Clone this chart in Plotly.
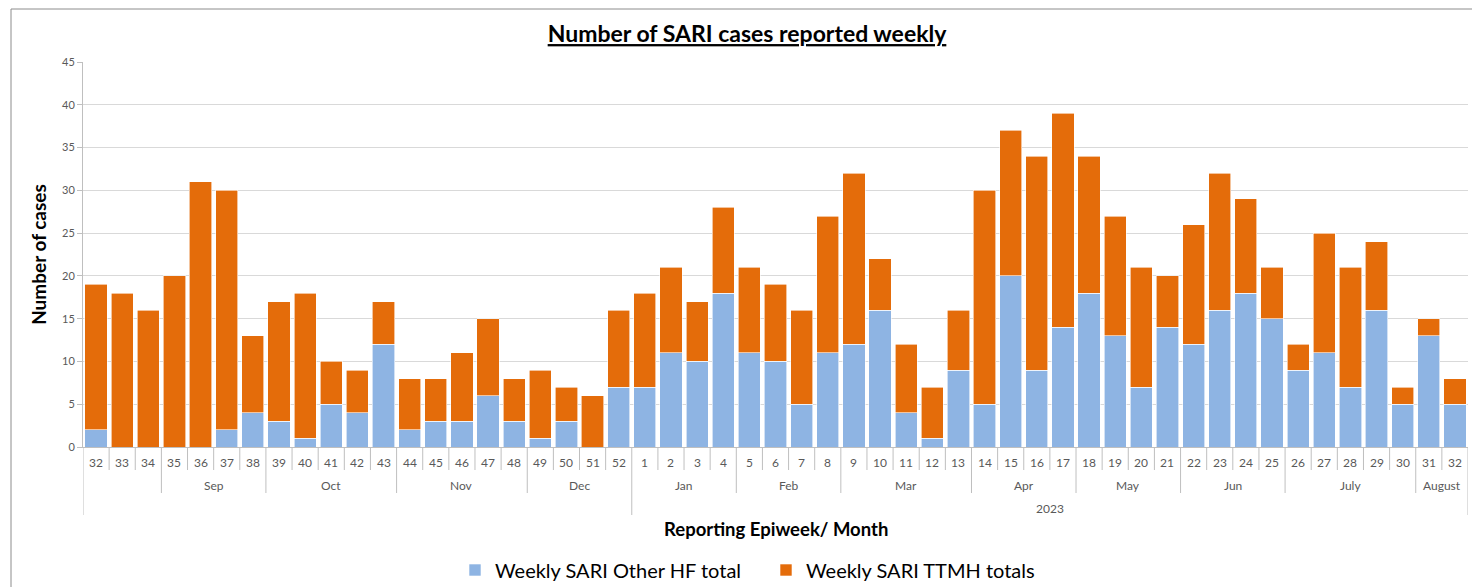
import plotly.graph_objects as go

weeks = ["32","33","34","35","36","37","38","39","40","41","42","43","44","45","46","47","48",
         "49","50","51","52","1","2","3","4","5","6","7","8","9","10","11","12","13","14","15",
         "16","17","18","19","20","21","22","23","24","25","26","27","28","29","30","31","32"]
months = ["","",""] + ["Sep"]*4 + ["Oct"]*5 + ["Nov"]*5 + ["Dec"]*4 + ["Jan"]*4 + ["Feb"]*4 + \
         ["Mar"]*5 + ["Apr"]*4 + ["May"]*4 + ["Jun"]*4 + ["July"]*5 + ["August"]*2
years = [""]*21 + ["2023"]*32

other_hf = [2,0,0,0,0,2,4,3,1,5,4,12,2,3,3,6,3,1,3,0,7,
            7,11,10,18,11,10,5,11,12,16,4,1,9,5,20,9,14,18,13,7,14,12,16,18,15,9,11,7,16,5,13,5]
ttmh = [17,18,16,20,31,28,9,14,17,5,5,5,6,5,8,9,5,8,4,6,9,
        11,10,7,10,10,9,11,16,20,6,8,6,7,25,17,25,25,16,14,14,6,14,16,11,6,3,14,14,8,2,2,3]

BLUE = "#8EB4E3"
ORANGE = "#E46C0A"
FONT = "Lato"
W, H = 1472, 587
ML, MR, MT, MB = 83, 4, 62, 140
PLOT_W = W - ML - MR
PLOT_H = H - MT - MB

idx = list(range(len(weeks)))

fig = go.Figure()
fig.add_trace(go.Bar(x=idx, y=other_hf, name="Weekly SARI Other HF total",
                     marker=dict(color=BLUE, line=dict(color="white", width=0.6))))
fig.add_trace(go.Bar(x=idx, y=ttmh, name="Weekly SARI TTMH totals",
                     marker=dict(color=ORANGE, line=dict(color="white", width=0.6))))

annotations = []
shapes = []

# week labels
for i, w in enumerate(weeks):
    annotations.append(dict(x=i, y=0, xref="x", yref="paper", text=w, showarrow=False,
                            yanchor="middle", yshift=-15, font=dict(family=FONT, size=12, color="#595959")))

def groups(labels):
    out = []
    start = 0
    for i in range(1, len(labels) + 1):
        if i == len(labels) or labels[i] != labels[start]:
            out.append((labels[start], start, i - 1))
            start = i
    return out

for lab, a, b in groups(months):
    if lab:
        annotations.append(dict(x=(a + b) / 2, y=0, xref="x", yref="paper", text=lab, showarrow=False,
                                yanchor="middle", yshift=-38, font=dict(family=FONT, size=12, color="#595959")))
for lab, a, b in groups(years):
    if lab:
        annotations.append(dict(x=(a + b) / 2, y=0, xref="x", yref="paper", text=lab, showarrow=False,
                                yanchor="middle", yshift=-61, font=dict(family=FONT, size=12, color="#595959")))

# separators
n = len(weeks)
for i in range(n + 1):
    if i == 0 or i == n or years[i] != years[i - 1]:
        depth = 68
    elif months[i] != months[i - 1]:
        depth = 46
    else:
        depth = 23
    shapes.append(dict(type="line", xref="x", yref="paper", x0=i - 0.5, x1=i - 0.5,
                       y0=0, y1=-depth / PLOT_H, line=dict(color="#BFBFBF", width=1)))

# x axis title
annotations.append(dict(x=0.5, y=0, xref="paper", yref="paper", text="<b>Reporting Epiweek/ Month</b>",
                        showarrow=False, yanchor="middle", yshift=-82,
                        font=dict(family=FONT, size=18.5, color="black")))

# outer border
shapes.append(dict(type="rect", xref="paper", yref="paper",
                   x0=(11 - ML) / PLOT_W, x1=1 + 40 / PLOT_W, y0=-200 / PLOT_H, y1=1 + (MT - 9) / PLOT_H,
                   line=dict(color="#8C8C8C", width=1), fillcolor="rgba(0,0,0,0)", layer="below"))

fig.update_layout(
    width=W, height=H,
    margin=dict(l=ML, r=MR, t=MT, b=MB, autoexpand=False),
    paper_bgcolor="white", plot_bgcolor="white",
    barmode="stack", bargap=0.15,
    font=dict(family=FONT, color="#595959"),
    title=dict(text="<b><u>Number of SARI cases reported weekly</u></b>", x=747 / W, xanchor="center",
               y=1 - 34 / H, yanchor="middle", font=dict(family=FONT, size=23, color="black")),
    xaxis=dict(range=[-0.5, n - 0.5], showticklabels=False, ticks="", showgrid=False,
               showline=True, linecolor="#BFBFBF", linewidth=1, zeroline=False),
    yaxis=dict(range=[0, 45], dtick=5, showgrid=True, gridcolor="#D9D9D9", gridwidth=1,
               ticks="outside", ticklen=5, tickcolor="#BFBFBF", showline=True, linecolor="#BFBFBF",
               tickfont=dict(family=FONT, size=11, color="#595959"), zeroline=False,
               title=dict(text="<b>Number of cases</b>", standoff=10,
                          font=dict(family=FONT, size=19, color="black"))),
    legend=dict(orientation="h", x=(455 - ML) / PLOT_W, xanchor="left", y=-123 / PLOT_H, yanchor="middle",
                font=dict(family=FONT, size=20, color="black"), traceorder="normal",
                entrywidth=266, itemwidth=30),
    annotations=annotations, shapes=shapes,
)

fig.write_html("out.html", config={"displayModeBar": False},
               post_script="document.body.style.margin='0px';document.body.style.overflow='hidden';")
